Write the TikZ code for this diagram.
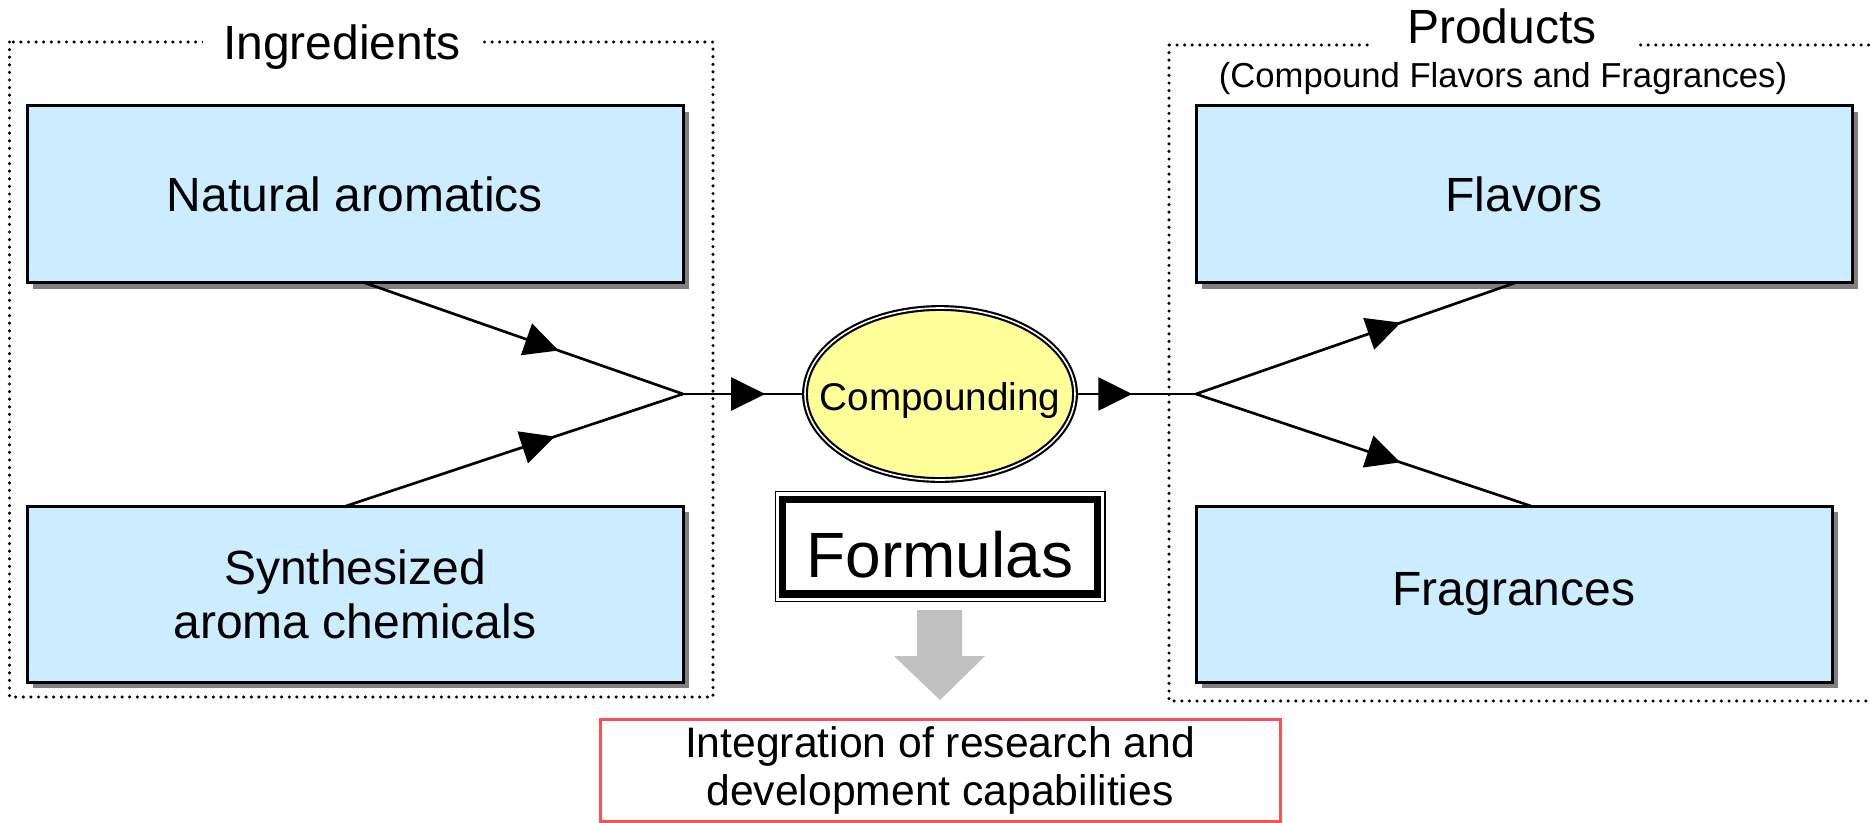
\documentclass[tikz,border=0pt]{standalone}
\usepackage{fontspec}
\setmainfont{Liberation Sans}
\usetikzlibrary{arrows.meta,shapes.geometric,decorations.markings,shadows,calc}
\definecolor{boxblue}{HTML}{CCECFF}
\definecolor{ellyel}{HTML}{FFFF99}
\definecolor{redline}{HTML}{FF5050}
\definecolor{arrgray}{HTML}{C0C0C0}
\definecolor{shadgray}{HTML}{808080}
\begin{document}
\begin{tikzpicture}[x=0.75pt,y=-0.75pt,
  bluebox/.style={draw=black, line width=2.25pt, fill=boxblue, inner sep=0pt, outer sep=0pt,
    align=center, font=\fontsize{36}{40.5}\selectfont,
    general shadow={fill=shadgray, shadow xshift=4.5pt, shadow yshift=-4.5pt}},
  dotbox/.style={line width=2.6pt, dash pattern=on 0pt off 5.7pt, line cap=round},
  titlenode/.style={fill=white, font=\fontsize{36}{40}\selectfont, inner ysep=3pt},
  conn/.style={line width=2pt, draw=black},
  arrowat/.style={postaction={decorate}, decoration={markings,
    mark=at position #1 with {\arrow{Triangle[length=25.5pt,width=24.75pt]}}}}
]
\useasboundingbox (0,0) rectangle (1870,822);

% dotted group frames
\draw[dotbox] (9.5,42) rectangle (713,697);
\draw[dotbox] (1169,45) rectangle (1885,701);

% titles
\node[titlenode, anchor=base, inner xsep=15pt] (ingt) at (342,59) {Ingredients};
\node[titlenode, anchor=base, inner xsep=29pt] (prodt) at (1502,43) {Products};
\node[anchor=base, font=\fontsize{26}{30}\selectfont, inner sep=0pt] (prods) at (1503,87) {(Compound Flavors and Fragrances)};

% boxes
\node[bluebox, minimum width=492pt, minimum height=132.75pt] (nat) at (355,194) {Natural aromatics};
\node[bluebox, minimum width=492pt, minimum height=132pt] (syn) at (355,594) {Synthesized\\aroma chemicals};
\node[bluebox, minimum width=492pt, minimum height=132.75pt] (fla) at (1524,194) {Flavors};
\node[bluebox, minimum width=477pt, minimum height=132pt] (fra) at (1514,594) {Fragrances};

% compounding ellipse
\node[ellipse, draw=black, fill=ellyel, line width=1.6pt, double=white, double distance=1.2pt,
  minimum width=202.5pt, minimum height=129pt, inner sep=0pt, outer sep=2.2pt,
  font=\fontsize{29}{32}\selectfont, text height=24pt, text depth=0pt] (comp) at (940,394) {\makebox[0pt]{Compounding}};

% formulas box
\node[draw=black, line width=5.6pt, fill=white, inner sep=0pt, outer sep=0pt,
  minimum width=235.9pt, minimum height=70.9pt,
  font=\fontsize{48}{52}\selectfont, text height=45.75pt, text depth=0pt] (form) at (940,546.5) {Formulas};
\draw[line width=1.1pt] ($(form.north west)+(-7.5,-7.5)$) rectangle ($(form.south east)+(7.5,7.5)$);

% integration box
\node[draw=redline, line width=2.25pt, inner sep=0pt, align=center,
  minimum width=510pt, minimum height=76.5pt,
  font=\fontsize{32}{36}\selectfont] (integ) at (940,770) {Integration of research and\\development capabilities};

% gray block arrow
\fill[arrgray] (917,610) -- (962,610) -- (962,656) -- (985,656) -- (940,700) -- (894,656) -- (917,656) -- cycle;

% connectors
\coordinate (j1) at (683,394);
\coordinate (j2) at (1196,394);
\draw[conn, arrowat=0.61] ($(nat.south)+(9,0)$) -- (j1);
\draw[conn, arrowat=0.62] ($(syn.north)+(-9,0)$) -- (j1);
\draw[conn, arrowat=0.69] (j1) -- (comp.west);
\draw[conn, arrowat=0.46] (comp.east) -- (j2);
\draw[conn, arrowat=0.64] (j2) -- ($(fla.south)+(-8,0)$);
\draw[conn, arrowat=0.61] (j2) -- ($(fra.north)+(17,0)$);
\end{tikzpicture}
\end{document}
